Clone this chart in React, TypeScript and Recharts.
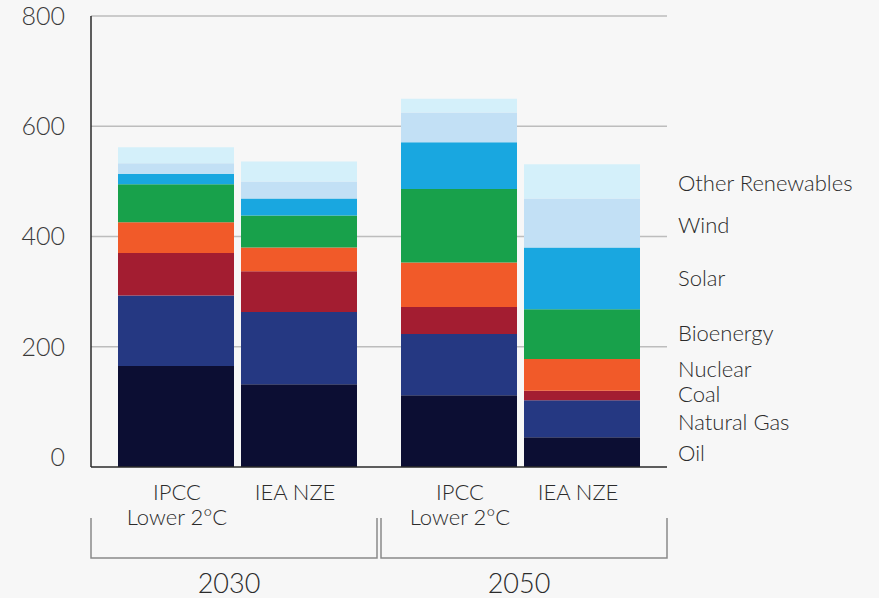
import React from 'react';
import { BarChart, Bar, XAxis, YAxis, CartesianGrid, LabelList, Rectangle } from 'recharts';

// Categories
const years = ['2030', '2050'];
const scenarioLabels = [['IPCC', 'Lower 2°C'], ['IEA NZE']];

// Series (bottom to top)
const seriesKeys = ['oil', 'gas', 'coal', 'nuclear', 'bio', 'solar', 'wind', 'other'];
const seriesNames = ['Oil', 'Natural Gas', 'Coal', 'Nuclear', 'Bioenergy', 'Solar', 'Wind', 'Other Renewables'];
const seriesColors = ['#0c0e33', '#253882', '#a31d31', '#f15a29', '#18a14b', '#19a7e0', '#c2e0f5', '#d4f0fa'];
// small vertical nudges of the side labels so they don't collide
const labelNudge = [0, 3, -2, -6, -2, -1, 2, 1];

// Values ordered: [IPCC Lower 2°C 2030, IEA NZE 2030, IPCC Lower 2°C 2050, IEA NZE 2050]
const oil = [165, 132, 112, 36];
const gas = [128, 131, 111, 67];
const coal = [77, 74, 49, 17];
const nuclear = [56, 43, 81, 58];
const bio = [69, 58, 133, 90];
const solar = [19, 31, 85, 112];
const wind = [19, 31, 54, 89];
const other = [29, 36, 25, 62];
const seriesValues = [oil, gas, coal, nuclear, bio, solar, wind, other];

// Axis ticks
const yTicks = [0, 200, 400, 600, 800];
const gridValues = [200, 400, 600, 800];

const data = years.map((year, i) => {
  const row: Record<string, any> = { year };
  seriesKeys.forEach((k, s) => {
    row[`ipcc_${k}`] = seriesValues[s][2 * i];
    row[`nze_${k}`] = seriesValues[s][2 * i + 1];
  });
  return row;
});

// Layout / style constants
const W = 879;
const H = 598;
const PLOT_LEFT = 91;
const PLOT_RIGHT = 667;
const PLOT_TOP = 16;
const PLOT_BOTTOM = 457;
const BASE_EXT = 10; // bars & axis extend a little below zero
const FONT = 'Lato, "Open Sans", "DejaVu Sans", sans-serif';
const TEXT = '#2b2b2b';
const BAR_SIZE = 116;
const BAR_GAP = 7;

const OilShape = (props: any) => (
  <Rectangle {...props} height={props.height + BASE_EXT} />
);

const XTick = (props: any) => {
  const { x, index, payload } = props;
  const mid = (PLOT_LEFT + PLOT_RIGHT) / 2;
  const bl = index === 0 ? PLOT_LEFT : mid + 2;
  const br = index === 0 ? mid - 2 : PLOT_RIGHT;
  const off = (BAR_SIZE + BAR_GAP) / 2;
  const axisY = PLOT_BOTTOM + BASE_EXT;
  return (
    <g>
      {index === 0 && (
        <g>
          <line x1={PLOT_LEFT} x2={PLOT_LEFT} y1={PLOT_TOP} y2={axisY} stroke="#2a2a2a" strokeWidth={1.5} />
          <line x1={PLOT_LEFT} x2={PLOT_RIGHT} y1={axisY} y2={axisY} stroke="#2a2a2a" strokeWidth={1.5} />
        </g>
      )}
      <text x={x - off + 1} y={491} textAnchor="middle" dominantBaseline="central" fontFamily={FONT} fontWeight={300} fontSize={22} fill={TEXT}>
        {scenarioLabels[0][0]}
      </text>
      <text x={x - off + 1} y={516} textAnchor="middle" dominantBaseline="central" fontFamily={FONT} fontWeight={300} fontSize={22} fill={TEXT}>
        {scenarioLabels[0][1]}
      </text>
      <text x={x + off - 4} y={491} textAnchor="middle" dominantBaseline="central" fontFamily={FONT} fontWeight={300} fontSize={22} fill={TEXT}>
        {scenarioLabels[1][0]}
      </text>
      <path d={`M${bl},518 V558 H${br} V518`} fill="none" stroke="#8a8a8a" strokeWidth={1.5} />
      <text x={(bl + br) / 2 - 5} y={582} textAnchor="middle" dominantBaseline="central" fontFamily={FONT} fontWeight={300} fontSize={27} fill={TEXT}>
        {payload.value}
      </text>
    </g>
  );
};

const makeSideLabel = (s: number) => (p: any) => {
  if (p.index !== data.length - 1) return null;
  const h = Number(p.height) + (s === 0 ? BASE_EXT : 0);
  return (
    <text x={Number(p.x) + Number(p.width) + 38} y={Number(p.y) + h / 2 + labelNudge[s]} dominantBaseline="central" fontFamily={FONT} fontWeight={300} fontSize={22} fill={TEXT}>
      {seriesNames[s]}
    </text>
  );
};

export default function App() {
  return (
    <div style={{ position: 'absolute', left: 0, top: 0, width: W, height: H, background: '#f7f7f7' }}>
      <BarChart
        width={W}
        height={H}
        data={data}
        margin={{ top: PLOT_TOP, right: W - PLOT_RIGHT, left: 0, bottom: 0 }}
        barGap={BAR_GAP}
      >
        <CartesianGrid vertical={false} horizontalValues={gridValues} stroke="#bdbdbd" strokeWidth={1.5} />
        <YAxis
          width={PLOT_LEFT}
          domain={[0, 800]}
          ticks={yTicks}
          axisLine={false}
          tickLine={false}
          tickSize={0}
          tickMargin={26}
          tick={{ fontFamily: FONT, fontWeight: 300, fontSize: 25, fill: '#3a3a3a' }}
        />
        <XAxis
          dataKey="year"
          height={H - PLOT_BOTTOM}
          padding={{ left: 5, right: 5 }}
          axisLine={false}
          tickLine={false}
          interval={0}
          tick={<XTick />}
        />
        {seriesKeys.map((k, s) => (
          <Bar
            key={`ipcc_${k}`}
            dataKey={`ipcc_${k}`}
            stackId="ipcc"
            fill={seriesColors[s]}
            barSize={BAR_SIZE}
            isAnimationActive={false}
            shape={s === 0 ? OilShape : undefined}
          />
        ))}
        {seriesKeys.map((k, s) => (
          <Bar
            key={`nze_${k}`}
            dataKey={`nze_${k}`}
            stackId="nze"
            fill={seriesColors[s]}
            barSize={BAR_SIZE}
            isAnimationActive={false}
            shape={s === 0 ? OilShape : undefined}
          >
            <LabelList dataKey={`nze_${k}`} content={makeSideLabel(s)} />
          </Bar>
        ))}
      </BarChart>
    </div>
  );
}
